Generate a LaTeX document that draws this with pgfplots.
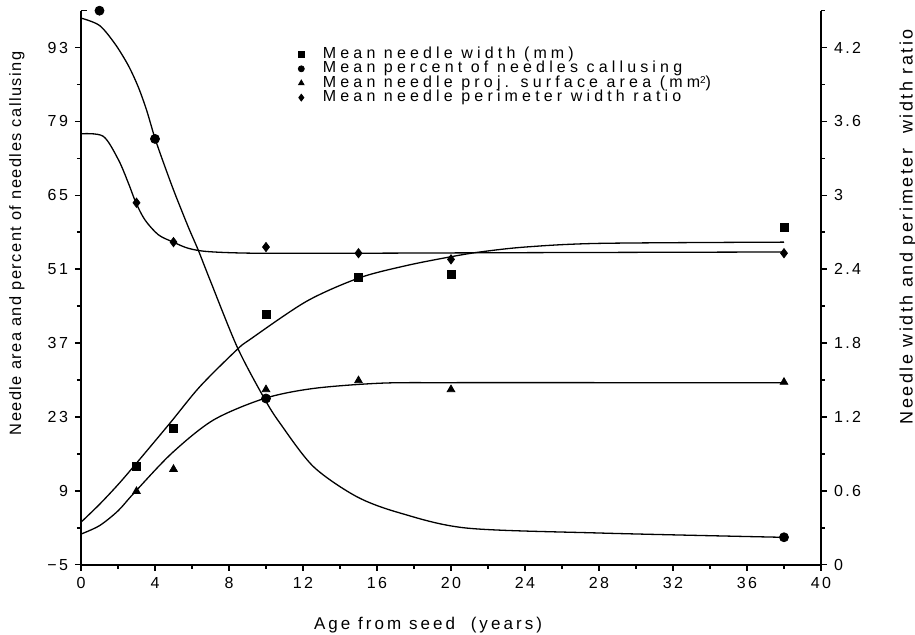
\documentclass[border=0pt]{standalone}
\usepackage{fontspec}
\setmainfont{Liberation Sans}[LetterSpace=15]
\newfontfamily\lablfont{Liberation Sans}[LetterSpace=9]
\newfontfamily\labrfont{Liberation Sans}[LetterSpace=14]
\newfontfamily\xlabfont{Liberation Sans}[LetterSpace=18]
\newfontfamily\legfont{Liberation Sans}[LetterSpace=26]
\usepackage{pgfplots}
\pgfplotsset{compat=1.18}

\pgfplotsset{
  common/.style={
    scale only axis, width=370pt, height=277pt,
    xmin=0, xmax=40,
    axis line style={line width=1pt},
    tick style={line width=0.8pt, black},
    major tick length=3pt, minor tick length=2pt,
    tick align=outside,
    every tick label/.append style={font=\fontsize{8}{9}\selectfont},
    clip=false,
  },
  curve/.style={smooth, tension=0.5, line width=0.65pt, black, no markers, forget plot},
}

\begin{document}
\begin{tikzpicture}
\begin{axis}[
  common,
  ymin=-5, ymax=100,
  axis x line*=bottom, axis y line*=left,
  xtick={0,4,8,12,16,20,24,28,32,36,40},
  xticklabels={0,4,8,12,16,20,24,28,32,36,40},
  minor xtick={2,6,10,14,18,22,26,30,34,38},
  ytick={-5,9,23,37,51,65,79,93},
  yticklabels={−5,9,23,37,51,65,79,93},
  minor ytick={2,16,30,44,58,72,86},
  extra y ticks={100}, extra y tick labels={},
  extra y tick style={tick align=inside, major tick length=3pt},
  xlabel={Age from seed\ \ (years)},
  xlabel style={at={(axis description cs:0.469,-0.109)}, anchor=center, font=\xlabfont\fontsize{8.5}{9}\selectfont},
  ylabel={Needle area and percent of needles callusing},
  ylabel style={at={(axis description cs:-0.0865,0.58)}, anchor=center, font=\lablfont\fontsize{8.2}{9}\selectfont},
]
\coordinate (BL) at (rel axis cs:0,0);
\coordinate (TR) at (rel axis cs:1,1);
% percent callusing curve
\addplot[curve] coordinates {
 (0,98.6) (1,97.2) (1.84,93.7) (2.56,89.6) (3.1,85.5) (3.55,81.1) (4,75.8)
 (4.54,70.4) (5.08,65.3) (5.8,59.0) (6.34,54.6) (6.97,49.0) (8.45,36.2)
 (9.91,26.5) (10.76,21.8) (12.56,13.6) (14.9,7.9) (17.24,4.8) (20.85,1.94)
 (28.05,1.0) (37.8,0.2)};
% projected area curve
\addplot[curve] coordinates {
 (0,0.8) (1,2.4) (2,5.2) (2.86,8.56) (4.9,16.1) (7.15,22.4) (9.91,26.5)
 (12.56,28.4) (16.2,29.4) (20,29.5) (30,29.5) (38,29.5)};
% percent callusing points
\addplot[only marks, mark=*, mark size=2.25pt, black, forget plot] coordinates {
 (1,100) (4,75.7) (10,26.5) (38,0.2)};
% projected area points
\addplot[only marks, mark=triangle*, mark size=2.2pt, black, forget plot] coordinates {
 (3,8.9) (5,13.1) (10,28.2) (15,29.9) (20,28.2) (38,29.6)};
\end{axis}

\begin{axis}[
  common,
  ymin=0, ymax=4.5,
  axis x line=none, axis y line*=right,
  ytick={0,0.6,1.2,1.8,2.4,3,3.6,4.2},
  yticklabels={0,0.6,1.2,1.8,2.4,3,3.6,4.2},
  minor ytick={0.3,0.9,1.5,2.1,2.7,3.3,3.9,4.5},
  ylabel={Needle width and perimeter\ \ width ratio},
  ylabel style={at={(axis description cs:1.1176,0.61)}, anchor=center, font=\labrfont\fontsize{9}{10}\selectfont},
  legend style={at={(axis description cs:0.285,0.942)}, anchor=north west,
    draw=none, fill=none, font=\legfont\fontsize{8}{8}\selectfont,
    row sep=0pt, column sep=9pt,
    nodes={inner sep=0.3pt, text height=5.2pt, text depth=1.4pt, anchor=west}},
  legend cell align=left,
  legend image code/.code={\draw[#1] plot coordinates {(0pt,0pt)};},
]
\addlegendimage{only marks, mark=square*, mark size=1.4pt, black}
\addlegendimage{only marks, mark=*, mark size=1.5pt, black}
\addlegendimage{only marks, mark=triangle*, mark size=1.6pt, black}
\addlegendimage{only marks, mark=diamond*, mark size=1.7pt, black}
\legend{Mean needle width (mm), Mean percent of needles callusing,
  Mean needle proj. surface area (mm\raisebox{1.9pt}{\fontsize{5}{5}\selectfont 2}), Mean needle perimeter width ratio}
% width curve
\addplot[curve] coordinates {
 (0,0.345) (1,0.49) (2,0.65) (2.86,0.80) (4.81,1.15) (6.43,1.447) (8.42,1.745)
 (9.14,1.83) (12.2,2.14) (15.05,2.33) (17.6,2.43) (19.95,2.50) (21.57,2.54)
 (24,2.58) (28.05,2.61) (38,2.62)};
% perimeter ratio curve
\addplot[curve] coordinates {
 (0,3.50) (1.2,3.48) (2.02,3.29) (2.56,3.10) (2.97,2.94)
 (3.46,2.80) (4.18,2.68) (4.99,2.62) (5.8,2.57) (6.88,2.543) (9.4,2.53)
 (15,2.53) (25,2.535) (38,2.54)};
% width points
\addplot[only marks, mark=square*, mark size=2pt, black, forget plot] coordinates {
 (3,0.80) (5,1.11) (10,2.03) (15,2.33) (20,2.36) (38,2.74)};
% perimeter ratio points
\addplot[only marks, mark=diamond*, mark size=2.3pt, black, forget plot] coordinates {
 (3,2.94) (5,2.62) (10,2.58) (15,2.53) (20,2.48) (38,2.53)};
\end{axis}
\pgfresetboundingbox
\path[use as bounding box] ([shift={(-40.5pt,-34.75pt)}]BL) rectangle ([shift={(47pt,5.35pt)}]TR);
\end{tikzpicture}
\end{document}
